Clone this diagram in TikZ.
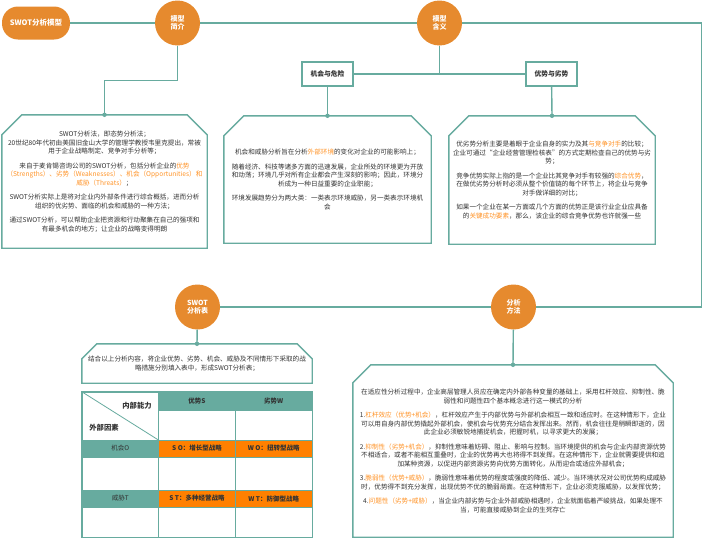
\documentclass[tikz,border=0pt]{standalone}
\usepackage{fontspec}
\setmainfont{Noto Sans CJK SC}
\usetikzlibrary{calc}

\definecolor{swotorange}{HTML}{E68A2E}
\definecolor{swotteal}{HTML}{67AB9F}
\definecolor{cellorange}{HTML}{FF8000}
\definecolor{hilite}{HTML}{FF9326}
\definecolor{bodytext}{HTML}{333333}

\newcommand\boxfont{\fontsize{6.6}{8.5}\selectfont}
\newcommand\hl[1]{\textcolor{hilite}{#1}}
% outline with the two upper corners cut off
\newcommand\chamferbox[2][20pt]{%
  \draw[draw=swotteal, line width=1.4pt] (#2.south west) -- ([yshift=-#1]#2.north west)
    -- ([xshift=#1]#2.north west) -- ([xshift=-#1]#2.north east)
    -- ([yshift=-#1]#2.north east) -- (#2.south east) -- cycle;}

\tikzset{
  link/.style={draw=swotteal, line width=1.4pt},
  pill/.style={fill=swotorange, rounded corners=16pt, minimum width=68pt, minimum height=33pt,
    inner sep=0pt, text=white, font=\bfseries\fontsize{7.5}{9}\selectfont},
  topic/.style={circle, fill=swotorange, minimum size=45pt, inner sep=0pt, text=white,
    align=center, font=\bfseries\fontsize{7}{8.5}\selectfont},
  label box/.style={draw=swotteal, line width=1.4pt, fill=white, minimum width=51pt,
    minimum height=24pt, inner sep=0pt, text=bodytext, font=\bfseries\fontsize{6.8}{8}\selectfont},
  textbox/.style={inner sep=0pt, align=center, text=bodytext, font=\boxfont},
  gridcell/.style={draw=swotteal, line width=0.8pt, inner sep=0pt, minimum width=76.67pt,
    text=bodytext, font=\fontsize{6.5}{8}\selectfont},
  joint/.style={fill=swotteal}
}

\begin{document}
\begin{tikzpicture}[x=1pt, y=-1pt]
\path[use as bounding box, fill=white] (0,0) rectangle (703,538);

\node[pill] (title) at (36,23) {SWOT分析模型};
\node[topic] (intro) at (177.5,23) {模型\\简介};
\node[topic] (meaning) at (439.5,23) {模型\\含义};
\node[topic] (swottab) at (197.5,307) {SWOT\\分析表};
\node[topic] (method) at (513.5,307) {分析\\方法};
\coordinate (turn) at (701.5,307);

\node[label box] (opp) at (327.5,74) {机会与危险};
\node[label box] (adv) at (551.5,74) {优势与劣势};

\node[textbox, minimum width=205pt, minimum height=133pt] (introtext) at (104.5,181.5) {%
SWOT分析法，即态势分析法；\\
20世纪80年代初由美国旧金山大学的管理学教授韦里克提出，常被\\
用于企业战略制定、竞争对手分析等；\\[6pt]
来自于麦肯锡咨询公司的SWOT分析，包括分析企业的\hl{优势}\\
\hl{（Strengths）、劣势（Weaknesses）、机会（Opportunities）和}\\
\hl{威胁（Threats）}；\\[6pt]
SWOT分析实际上是将对企业内外部条件进行综合概括，进而分析\\
组织的优劣势、面临的机会和威胁的一种方法；\\[6pt]
通过SWOT分析，可以帮助企业把资源和行动聚集在自己的强项和\\
有最多机会的地方；让企业的战略变得明朗};

\node[textbox, minimum width=207pt, minimum height=127pt] (opptext) at (327.5,179.5) {%
机会和威胁分析旨在分析\hl{外部环境}的变化对企业的可能影响上；\\[6pt]
随着经济、科技等诸多方面的迅速发展，企业所处的环境更为开放\\
和动荡；环境几乎对所有企业都会产生深刻的影响；因此，环境分\\
析成为一种日益重要的企业职能；\\[6pt]
环境发展趋势分为两大类：一类表示环境威胁，另一类表示环境机\\
会};

\node[textbox, minimum width=206pt, minimum height=128pt] (advtext) at (552,180) {%
优劣势分析主要是着眼于企业自身的实力及其\hl{与竞争对手}的比较；\\
企业可通过“企业经营管理检核表”的方式定期检查自己的优势与劣\\
势；\\[6pt]
竞争优势实际上指的是一个企业比其竞争对手有较强的\hl{综合优势}，\\
在做优劣势分析时必须从整个价值链的每个环节上，将企业与竞争\\
对手做详细的对比；\\[6pt]
如果一个企业在某一方面或几个方面的优势正是该行业企业应具备\\
的\hl{关键成功要素}，那么，该企业的综合竞争优势也许就强一些};

\node[textbox, minimum width=230pt, minimum height=39pt] (tabletext) at (197,363.5) {%
结合以上分析内容，将企业优势、劣势、机会、威胁及不同情形下采取的战\\
略措施分别填入表中，形成SWOT分析表；};

\node[textbox, minimum width=320pt, minimum height=172pt] (methodtext) at (513,451) {%
在适应性分析过程中，企业高层管理人员应在确定内外部各种变量的基础上，采用杠杆效应、抑制性、脆\\
弱性和问题性四个基本概念进行这一模式的分析\\[6pt]
1.\hl{杠杆效应（优势+机会）}，杠杆效应产生于内部优势与外部机会相互一致和适应时。在这种情形下，企业\\
可以用自身内部优势撬起外部机会，使机会与优势充分结合发挥出来。然而，机会往往是稍瞬即逝的，因\\
此企业必须敏锐地捕捉机会，把握时机，以寻求更大的发展；\\[6pt]
2.\hl{抑制性（劣势+机会）}，抑制性意味着妨碍、阻止、影响与控制。当环境提供的机会与企业内部资源优势\\
不相适合，或者不能相互重叠时，企业的优势再大也将得不到发挥。在这种情形下，企业就需要提供和追\\
加某种资源，以促进内部资源劣势向优势方面转化，从而迎合或适应外部机会；\\[6pt]
3.\hl{脆弱性（优势+威胁）}，脆弱性意味着优势的程度或强度的降低、减少。当环境状况对公司优势构成威胁\\
时，优势得不到充分发挥，出现优势不优的脆弱局面。在这种情形下，企业必须克服威胁，以发挥优势；\\[6pt]
4.\hl{问题性（劣势+威胁）}，当企业内部劣势与企业外部威胁相遇时，企业就面临着严峻挑战，如果处理不\\
当，可能直接威胁到企业的生死存亡};

\chamferbox{introtext}
\chamferbox{opptext}
\chamferbox{advtext}
\chamferbox[15pt]{tabletext}
\chamferbox[18pt]{methodtext}

% SWOT table
\node[gridcell, minimum height=48pt] (corner) at (120.33,416) {};
\draw[swotteal, line width=0.8pt] (corner.north west) -- (corner.south east);
\node[text=bodytext, font=\bfseries\fontsize{7.3}{9}\selectfont] (inside) at (137,406) {内部能力};
\node[text=bodytext, font=\bfseries\fontsize{7.3}{9}\selectfont] (outside) at (104,428) {外部因素};
\node[gridcell, fill=swotteal, minimum height=18pt, font=\bfseries\fontsize{6.5}{8}\selectfont] (hs) at (197,401) {优势S};
\node[gridcell, fill=swotteal, minimum height=18pt, font=\bfseries\fontsize{6.5}{8}\selectfont] (hw) at (273.67,401) {劣势W};
\node[gridcell, minimum height=30pt] (s1) at (197,425) {};
\node[gridcell, minimum height=30pt] (w1) at (273.67,425) {};
\node[gridcell, fill=swotteal, minimum height=17pt] (o) at (120.33,448.5) {机会O};
\node[gridcell, fill=cellorange, minimum height=17pt, font=\bfseries\fontsize{6.5}{8}\selectfont] (so) at (197,448.5) {S O：增长型战略};
\node[gridcell, fill=cellorange, minimum height=17pt, font=\bfseries\fontsize{6.5}{8}\selectfont] (wo) at (273.67,448.5) {W O：扭转型战略};
\foreach \x/\n in {120.33/o1, 197/so1, 273.67/wo1}
  \node[gridcell, minimum height=33pt] (\n) at (\x,473.5) {};
\node[gridcell, fill=swotteal, minimum height=17pt] (t) at (120.33,498.5) {威胁T};
\node[gridcell, fill=cellorange, minimum height=17pt, font=\bfseries\fontsize{6.5}{8}\selectfont] (st) at (197,498.5) {S T：多种经营战略};
\node[gridcell, fill=cellorange, minimum height=17pt, font=\bfseries\fontsize{6.5}{8}\selectfont] (wt) at (273.67,498.5) {W T：防御型战略};
\foreach \x/\n in {120.33/t1, 197/st1, 273.67/wt1}
  \node[gridcell, minimum height=30pt] (\n) at (\x,522) {};
\draw[swotteal, line width=1.6pt] (corner.north west) rectangle (wt1.south east);

% connectors
\draw[link] (title) -- (intro);
\draw[link] (intro) -- (meaning);
\draw[link] (meaning) -| (turn) -- (method);
\draw[link] (method) -- (swottab);
\draw[link] (intro.south) -- ++(0,34.5) -| (introtext.north);
\draw[link] (meaning) -- (meaning |- opp);
\draw[link] (opp) -- (adv);
\draw[link] (opp) -- (opptext.north);
\draw[link] (adv) -- (advtext.north);
\draw[link] (swottab) -- (tabletext.north);
\draw[link] (method) -- (methodtext.north);
\foreach \n in {introtext, opptext, advtext, tabletext, methodtext}
  \fill[joint] (\n.north) circle (2.2pt);
\end{tikzpicture}
\end{document}
